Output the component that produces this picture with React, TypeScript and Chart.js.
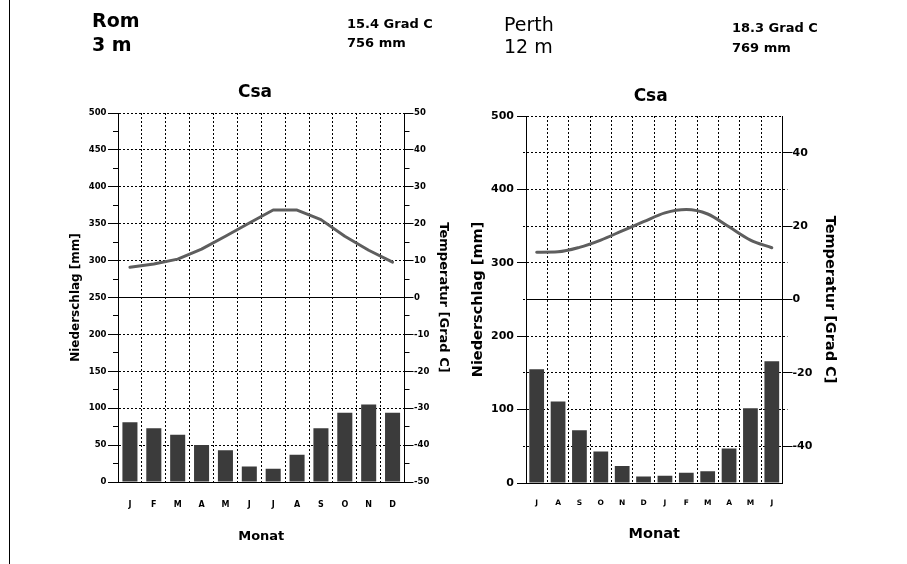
import React, { useEffect, useRef } from 'react';
import { Chart, registerables } from 'chart.js';

Chart.register(...registerables);
Chart.defaults.font.family = "'DejaVu Sans', sans-serif";

// ---------- data ----------
const romMonths = ['J', 'F', 'M', 'A', 'M', 'J', 'J', 'A', 'S', 'O', 'N', 'D'];
const romPrecipitation = [81, 73, 64, 50, 43, 21, 18, 37, 73, 94, 105, 94];
const romTemperature = [8.2, 9.1, 10.4, 13.1, 16.6, 20.2, 23.7, 23.7, 21.1, 16.6, 12.8, 9.6];
const romPrecipGrid = [0, 50, 100, 150, 200, 250, 300, 350, 400, 450, 500];
const romPrecipLabels = [0, 50, 100, 150, 200, 250, 300, 350, 400, 450, 500];
const romTempTicks = [-50, -40, -30, -20, -10, 0, 10, 20, 30, 40, 50];

const perthMonths = ['J', 'A', 'S', 'O', 'N', 'D', 'J', 'F', 'M', 'A', 'M', 'J'];
const perthPrecipitation = [155, 111, 72, 43, 23, 9, 10, 14, 16, 47, 102, 166];
const perthTemperature = [12.9, 13.0, 14.2, 16.2, 18.7, 21.2, 23.6, 24.5, 23.3, 19.8, 16.2, 14.1];
const perthPrecipGrid = [0, 50, 100, 150, 200, 250, 300, 350, 400, 450, 500];
const perthPrecipLabels = [0, 100, 200, 300, 400, 500];
const perthTempTicks = [-40, -20, 0, 20, 40];

const xTitle = 'Monat';
const yTitle = 'Niederschlag [mm]';
const rTitle = 'Temperatur [Grad C]';

type Params = {
  months: string[];
  precip: number[];
  temp: number[];
  precipGrid: number[];
  precipLabels: number[];
  tempTicks: number[];
  tension: number;
  monotone: boolean;
  barPct: number;
  top: number;
  xHeight: number;
  leftWidth: number;
  rightWidth: number;
  xFont: number;
  xTickPad: number;
  xTitleFont: number;
  xTitlePad: number;
  yFont: number;
  yTickLen: number;
  yTickPad: number;
  yTitleFont: number;
  yTitlePad: number;
  rFont: number;
  rTickLen: number;
  rTickPad: number;
  rTitleFont: number;
  rTitlePad: number;
  minorLeftStep: number;
  minorLeftLen: number;
  minorLeftDash: number[];
  minorRightStep: number;
  minorRightLen: number;
  minorRightDash: number[];
  hideRightBoundMinor: boolean;
};

const TRANSPARENT = 'rgba(0,0,0,0)';
const DASH = [2, 2];

function makeConfig(p: Params): any {
  const bold = (size: number) => ({ family: "'DejaVu Sans', sans-serif", size, weight: 'bold' as const });
  return {
    type: 'bar',
    data: {
      labels: p.months,
      datasets: [
        {
          type: 'line',
          data: p.temp,
          yAxisID: 'yT',
          xAxisID: 'x',
          borderColor: '#5e5e5e',
          borderWidth: 3,
          pointRadius: 0,
          tension: p.tension,
          cubicInterpolationMode: p.monotone ? 'monotone' : 'default',
          borderJoinStyle: 'round',
          borderCapStyle: 'round',
          order: 0,
        },
        {
          type: 'bar',
          data: p.precip,
          yAxisID: 'y',
          xAxisID: 'x',
          backgroundColor: '#3b3b3b',
          borderWidth: 0,
          barPercentage: p.barPct,
          categoryPercentage: 1,
          order: 1,
        },
      ],
    },
    options: {
      responsive: false,
      animation: false,
      events: [],
      layout: { padding: { top: p.top, left: 0, right: 0, bottom: 0 } },
      plugins: {
        legend: { display: false },
        tooltip: { enabled: false },
        title: { display: false },
      },
      scales: {
        x: {
          type: 'category',
          offset: true,
          grid: { offset: true, color: '#000', lineWidth: 1, drawTicks: false },
          border: { display: true, color: '#000', width: 1, dash: DASH },
          ticks: { font: bold(p.xFont), color: '#000', padding: p.xTickPad, maxRotation: 0, autoSkip: false },
          title: {
            display: true,
            text: xTitle,
            font: bold(p.xTitleFont),
            color: '#000',
            padding: { top: 0, bottom: p.xTitlePad },
          },
          afterFit: (s: any) => {
            s.height = p.xHeight;
          },
        },
        y: {
          type: 'linear',
          position: 'left',
          min: 0,
          max: 500,
          weight: 1,
          afterBuildTicks: (s: any) => {
            s.ticks = p.precipGrid.map((v) => ({ value: v }));
          },
          ticks: {
            font: bold(p.yFont),
            color: '#000',
            padding: p.yTickPad,
            callback: (v: any) => (p.precipLabels.includes(Number(v)) ? String(v) : ''),
          },
          grid: {
            color: (c: any) => (c.tick && c.tick.value === 250 ? TRANSPARENT : '#000'),
            tickColor: (c: any) => (c.tick && p.precipLabels.includes(c.tick.value) ? '#000' : TRANSPARENT),
            tickLength: p.yTickLen,
            lineWidth: 1,
          },
          border: { display: true, color: '#000', width: 1, dash: DASH },
          title: {
            display: true,
            text: yTitle,
            font: bold(p.yTitleFont),
            color: '#000',
            padding: { top: p.yTitlePad, bottom: 0 },
          },
          afterFit: (s: any) => {
            s.width = p.leftWidth;
          },
        },
        yMinorL: {
          type: 'linear',
          position: 'left',
          min: 0,
          max: 500,
          weight: 0,
          ticks: { display: false, stepSize: p.minorLeftStep },
          grid: {
            drawOnChartArea: false,
            drawTicks: true,
            tickLength: p.minorLeftLen,
            tickColor: '#000',
            tickBorderDash: p.minorLeftDash,
            color: '#000',
          },
          border: { display: false },
          afterFit: (s: any) => {
            s.width = 0;
          },
        },
        yT: {
          type: 'linear',
          position: 'right',
          min: -50,
          max: 50,
          weight: 1,
          afterBuildTicks: (s: any) => {
            s.ticks = p.tempTicks.map((v) => ({ value: v }));
          },
          ticks: { font: bold(p.rFont), color: '#000', padding: p.rTickPad },
          grid: {
            color: (c: any) => (c.tick && c.tick.value === 0 ? '#000' : TRANSPARENT),
            tickColor: '#000',
            tickLength: p.rTickLen,
            lineWidth: 1,
          },
          border: { display: true, color: '#000', width: 1, dash: [] },
          title: {
            display: true,
            text: rTitle,
            font: bold(p.rTitleFont),
            color: '#000',
            padding: { top: p.rTitlePad, bottom: 0 },
          },
          afterFit: (s: any) => {
            s.width = p.rightWidth;
          },
        },
        yMinorR: {
          type: 'linear',
          position: 'right',
          min: -50,
          max: 50,
          weight: 0,
          ticks: { display: false, stepSize: p.minorRightStep },
          grid: {
            drawOnChartArea: false,
            drawTicks: true,
            tickLength: p.minorRightLen,
            tickColor: (c: any) =>
              p.hideRightBoundMinor && c.tick && Math.abs(c.tick.value) === 50 ? TRANSPARENT : '#000',
            tickBorderDash: p.minorRightDash,
            color: '#000',
          },
          border: { display: false },
          afterFit: (s: any) => {
            s.width = 0;
          },
        },
      },
    },
  };
}

const romConfig = () =>
  makeConfig({
    months: romMonths,
    precip: romPrecipitation,
    temp: romTemperature,
    precipGrid: romPrecipGrid,
    precipLabels: romPrecipLabels,
    tempTicks: romTempTicks,
    tension: 0,
    monotone: false,
    barPct: 0.63,
    top: 113,
    xHeight: 82,
    leftWidth: 118,
    rightWidth: 48.5,
    xFont: 8,
    xTickPad: 18,
    xTitleFont: 13,
    xTitlePad: 20,
    yFont: 8.5,
    yTickLen: 10,
    yTickPad: 1.5,
    yTitleFont: 12,
    yTitlePad: 68.8,
    rFont: 8.5,
    rTickLen: 9,
    rTickPad: 0.5,
    rTitleFont: 13,
    rTitlePad: 1.5,
    minorLeftStep: 25,
    minorLeftLen: 5,
    minorLeftDash: [],
    minorRightStep: 5,
    minorRightLen: 5,
    minorRightDash: [],
    hideRightBoundMinor: false,
  });

const perthConfig = () =>
  makeConfig({
    months: perthMonths,
    precip: perthPrecipitation,
    temp: perthTemperature,
    precipGrid: perthPrecipGrid,
    precipLabels: perthPrecipLabels,
    tempTicks: perthTempTicks,
    tension: 0.4,
    monotone: true,
    barPct: 0.69,
    top: 116,
    xHeight: 81,
    leftWidth: 73,
    rightWidth: 124.5,
    xFont: 7.5,
    xTickPad: 16,
    xTitleFont: 14.5,
    xTitlePad: 21,
    yFont: 11,
    yTickLen: 9,
    yTickPad: 3,
    yTitleFont: 14.5,
    yTitlePad: 17,
    rFont: 11,
    rTickLen: 10,
    rTickPad: 0,
    rTitleFont: 14.5,
    rTitlePad: 69,
    minorLeftStep: 50,
    minorLeftLen: 3,
    minorLeftDash: [2, 2],
    minorRightStep: 10,
    minorRightLen: 5,
    minorRightDash: [2, 2],
    hideRightBoundMinor: true,
  });

function ClimateCanvas({ build, left, width }: { build: () => any; left: number; width: number }) {
  const ref = useRef<HTMLCanvasElement | null>(null);
  useEffect(() => {
    if (!ref.current) return;
    const chart = new Chart(ref.current, build());
    return () => chart.destroy();
  }, [build]);
  return (
    <canvas
      ref={ref}
      width={width}
      height={564}
      style={{ position: 'absolute', left, top: 0, width, height: 564 }}
    />
  );
}

const txt = (
  text: string,
  left: number,
  top: number,
  size: number,
  weight: 'bold' | 'normal',
  extra: React.CSSProperties = {}
) => (
  <div
    style={{
      position: 'absolute',
      left,
      top,
      fontFamily: "'DejaVu Sans', sans-serif",
      fontSize: size,
      fontWeight: weight,
      lineHeight: 1,
      whiteSpace: 'nowrap',
      color: '#000',
      ...extra,
    }}
  >
    {text}
  </div>
);

export default function App() {
  return (
    <div
      style={{
        position: 'absolute',
        left: 0,
        top: 0,
        width: 907,
        height: 564,
        background: '#fff',
        overflow: 'hidden',
      }}
    >
      <div style={{ position: 'absolute', left: 9, top: 0, width: 1, height: 564, background: '#000' }} />
      <ClimateCanvas build={romConfig} left={0} width={453} />
      <ClimateCanvas build={perthConfig} left={453} width={454} />
      {txt('Rom', 92, 10.6, 19, 'bold')}
      {txt('3 m', 92, 34.6, 19, 'bold')}
      {txt('15.4 Grad C', 347, 16.7, 13, 'bold')}
      {txt('756 mm', 347, 35.7, 13, 'bold')}
      {txt('Perth', 504, 14.6, 19, 'normal')}
      {txt('12 m', 504, 37.2, 19, 'normal')}
      {txt('18.3 Grad C', 732, 20.7, 13, 'bold')}
      {txt('769 mm', 732, 40.7, 13, 'bold')}
      {txt('Csa', 205, 82.9, 17, 'bold', { width: 100, textAlign: 'center' })}
      {txt('Csa', 600.7, 86.6, 17, 'bold', { width: 100, textAlign: 'center' })}
    </div>
  );
}
